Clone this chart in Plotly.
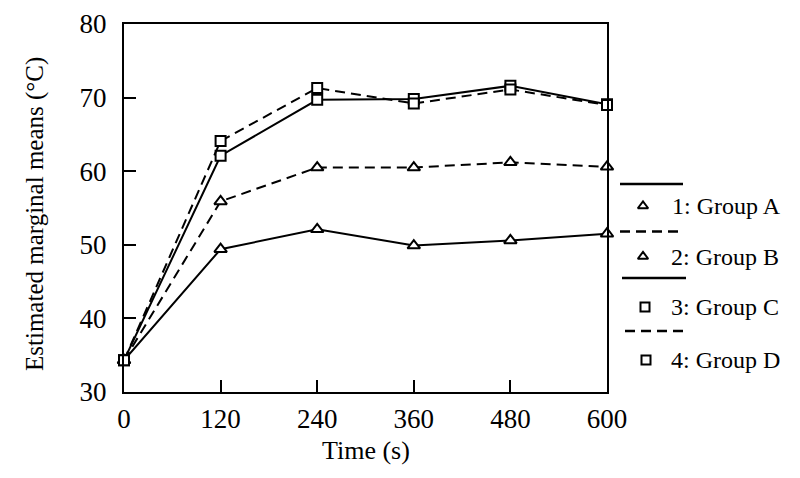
import plotly.graph_objects as go

# ---- data ----
time_s = [0, 120, 240, 360, 480, 600]
group_names = ["1: Group A", "2: Group B", "3: Group C", "4: Group D"]
group_a = [34.3, 49.4, 52.1, 49.9, 50.6, 51.5]
group_b = [34.3, 55.9, 60.5, 60.5, 61.2, 60.6]
group_c = [34.3, 62.1, 69.7, 69.8, 71.6, 69.1]
group_d = [34.3, 64.1, 71.3, 69.2, 71.1, 69.0]
x_ticks = [0, 120, 240, 360, 480, 600]
y_ticks = [30, 40, 50, 60, 70, 80]

series = [group_a, group_b, group_c, group_d]
dashes = ["solid", "10px,6px", "solid", "10px,6px"]
symbols = ["triangle-up", "triangle-up", "square", "square"]
sizes = [11, 11, 10, 10]

FONT = "Liberation Serif, Times New Roman, serif"
OFF = 8                      # default page margin of the html body
PAGE_W, PAGE_H = 800, 478
W, H = PAGE_W - OFF, PAGE_H - OFF
# plot box in page pixels
BOX_L, BOX_R, BOX_T, BOX_B = 124, 607, 24, 392
L = BOX_L - OFF
T = BOX_T - OFF
B = PAGE_H - BOX_B
R = 0
area_w = W - L - R
area_h = H - T - B
main_frac = (BOX_R - BOX_L) / area_w


def px_x(px):
    return (px - OFF - L) / area_w


def px_y(py):
    return (H - B - (py - OFF)) / area_h


fig = go.Figure()

for vals, name, d, sym, sz in zip(series, group_names, dashes, symbols, sizes):
    fig.add_trace(go.Scatter(
        x=time_s, y=vals, mode="lines+markers", name=name,
        line=dict(color="black", width=2, dash=d),
        marker=dict(symbol=sym, size=sz, color="white",
                    line=dict(color="black", width=2)),
        cliponaxis=False, showlegend=False,
    ))

# ---- custom legend (on a page-pixel-valued helper axis at the right) ----
line_rows = [184, 231.5, 278, 331]
line_x0 = [620, 620, 622, 625]
line_x1 = [683, 683, 686, 688]
mark_rows = [206, 256.5, 307, 360]
mark_x = [643, 643, 645, 646]
text_x = [670, 669, 669, 669]
legend_annotations = []
for i, name in enumerate(group_names):
    fig.add_trace(go.Scatter(
        x=[line_x0[i], line_x1[i]], y=[line_rows[i], line_rows[i]],
        mode="lines", xaxis="x2", yaxis="y2", showlegend=False,
        line=dict(color="black", width=2.5, dash=dashes[i]),
        cliponaxis=False, hoverinfo="skip",
    ))
    fig.add_trace(go.Scatter(
        x=[mark_x[i]], y=[mark_rows[i]], mode="markers",
        xaxis="x2", yaxis="y2", showlegend=False,
        marker=dict(symbol=symbols[i], size=9, color="white",
                    line=dict(color="black", width=2)),
        cliponaxis=False, hoverinfo="skip",
    ))
    legend_annotations.append(dict(
        text=name, xref="x2", yref="y2", x=text_x[i], y=mark_rows[i],
        xanchor="left", yanchor="middle", showarrow=False,
        font=dict(family=FONT, size=24, color="black"),
    ))

fig.update_layout(
    width=W, height=H,
    margin=dict(l=L, r=R, t=T, b=B, autoexpand=False),
    paper_bgcolor="white", plot_bgcolor="white",
    font=dict(family=FONT, size=25, color="black"),
    showlegend=False,
    xaxis=dict(
        domain=[0, main_frac], range=[0, 600], automargin=False,
        tickvals=x_ticks, ticktext=[str(v) for v in x_ticks],
        ticks="inside", ticklen=12, tickwidth=2, tickcolor="black",
        showline=True, linecolor="black", linewidth=2, mirror=True,
        showgrid=False, zeroline=False, ticklabelstandoff=2,
        tickfont=dict(family=FONT, size=27, color="black"),
    ),
    yaxis=dict(
        range=[30, 80], tickvals=y_ticks, automargin=False,
        ticktext=[str(v) for v in y_ticks],
        ticks="inside", ticklen=12, tickwidth=2, tickcolor="black",
        showline=True, linecolor="black", linewidth=2, mirror=True,
        showgrid=False, zeroline=False, ticklabelstandoff=10,
        tickfont=dict(family=FONT, size=27, color="black"),
    ),
    xaxis2=dict(domain=[main_frac, 1], range=[BOX_R, PAGE_W],
                visible=False, anchor="y2", automargin=False),
    yaxis2=dict(domain=[0, 1], range=[BOX_B, BOX_T], visible=False,
                anchor="x2", automargin=False),
    annotations=[
        dict(text="Time (s)", xref="paper", yref="paper",
             x=px_x(365.5), y=px_y(450), xanchor="center", yanchor="middle",
             showarrow=False, font=dict(family=FONT, size=26, color="black")),
        dict(text="Estimated marginal means (°C)", xref="paper", yref="paper",
             x=px_x(35), y=px_y(214), xanchor="center", yanchor="middle",
             textangle=-90, showarrow=False,
             font=dict(family=FONT, size=25, color="black")),
    ] + legend_annotations,
)

fig.write_html("out.html")
